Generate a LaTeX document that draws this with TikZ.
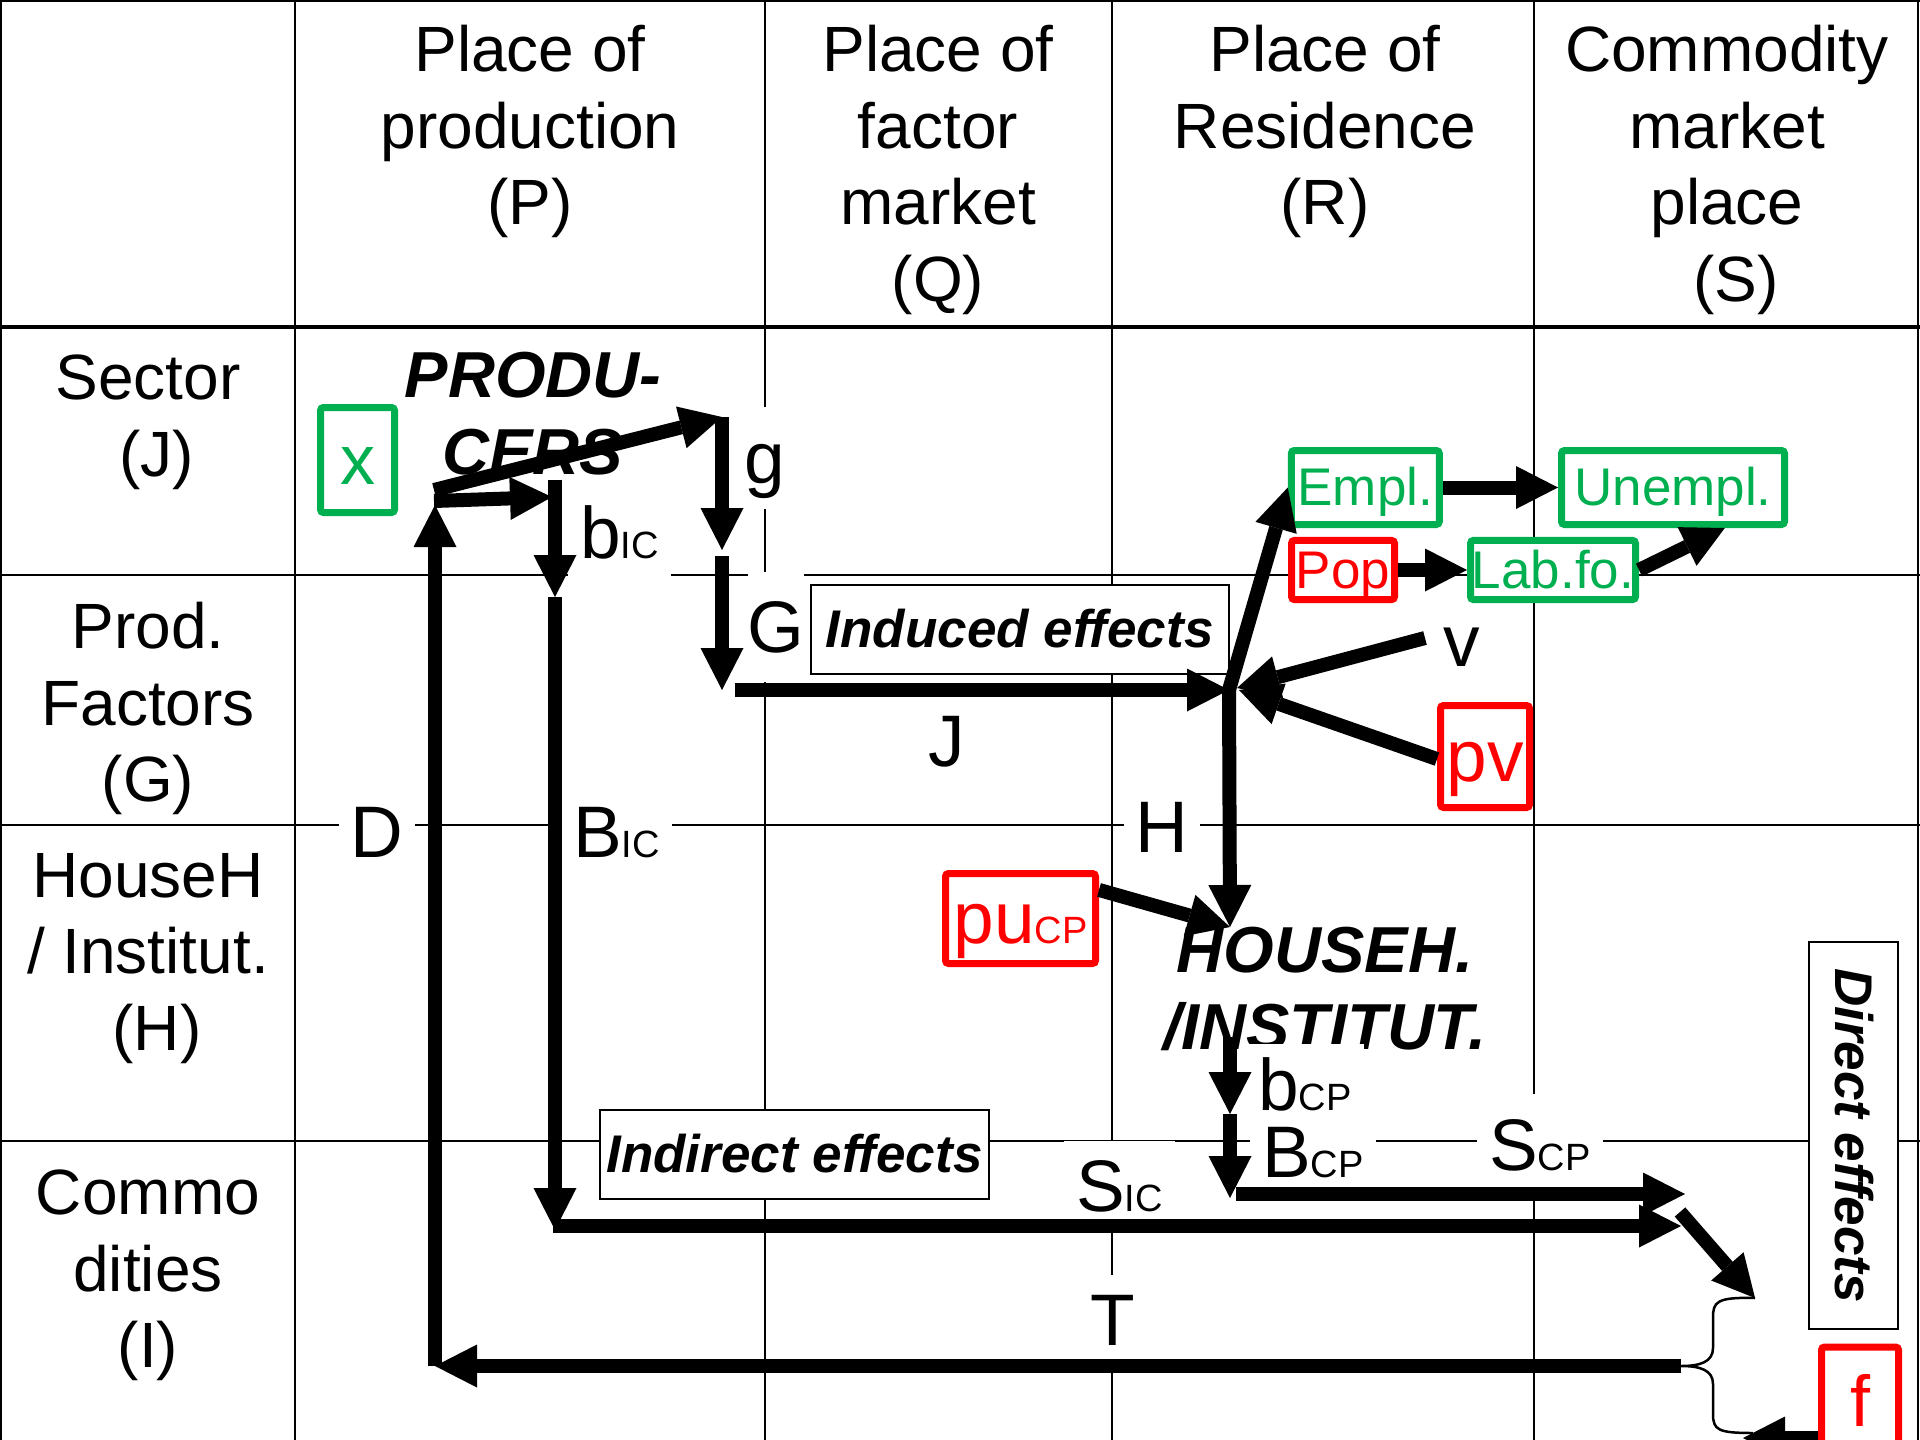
\documentclass[tikz,border=0pt]{standalone}
\usepackage{fontspec}
\setmainfont{Liberation Sans}
\usetikzlibrary{arrows.meta,calc}
\newcommand\setfs[2]{\fontsize{#1}{#2}\selectfont}
\newcommand\subtxt[1]{{\setfs{38}{38}#1}}
\definecolor{boxgreen}{RGB}{0,176,80}
\definecolor{boxred}{RGB}{255,0,0}

\begin{document}
\begin{tikzpicture}[x=1pt,y=-1pt,
  rule/.style={line width=2pt, black},
  hdr/.style={anchor=north, align=center, inner sep=0pt, font=\setfs{64}{76.5}},
  bigtxt/.style={anchor=north, align=center, inner sep=0pt, font=\setfs{65}{77}\bfseries\itshape},
  lbl/.style={anchor=base, fill=white, inner xsep=12pt, inner ysep=10pt,
              text height=66pt, text depth=15.5pt, font=\setfs{73}{80}},
  effbox/.style={draw, line width=2pt, fill=white, inner sep=0pt,
                 font=\setfs{53}{60}\bfseries\itshape, text height=48pt, text depth=11.2pt},
  cbox/.style={draw, line width=7pt, rounded corners=3pt, fill=white, inner sep=0pt},
  greenbox/.style={cbox, draw=boxgreen, text=boxgreen},
  redbox/.style={cbox, draw=boxred, text=boxred},
  smalltxt/.style={font=\setfs{53}{60}, text height=48pt, text depth=11.2pt},
  largetxt/.style={font=\setfs{73}{80}, text height=66pt, text depth=15.5pt},
  flow/.style={line width=14pt, -{Triangle[length=42pt, width=43pt, line width=0pt]}},
  bracepath/.style={line width=2.5pt}
]
\useasboundingbox (0,0) rectangle (1920,1440);

% table rules
\foreach \gx in {1,295,765,1112,1534,1918} \draw[rule] (\gx,0) -- (\gx,1440);
\draw[rule] (0,1) -- (1920,1);
\draw[rule, line width=4pt] (0,327) -- (1920,327);
\foreach \gy in {575,825,1141} \draw[rule] (0,\gy) -- (1920,\gy);

% column headers
\node[hdr] (colP) at (530,25) {Place of\\production\\(P)};
\node[hdr] (colQ) at (938,25) {Place of\\factor\\market\\(Q)};
\node[hdr] (colR) at (1325,25) {Place of\\Residence\\(R)};
\node[hdr] (colS) at (1727,25) {Commodity\\market\\place\\\hspace*{18pt}(S)};

% row headers
\node[hdr] (rowJ) at (148,355) {Sector\\\hspace*{18pt}(J)};
\node[hdr] (rowG) at (148,602) {Prod.\\Factors\\(G)};
\node[hdr] (rowH) at (148,853) {HouseH\\/ Institut.\\\hspace*{18pt}(H)};
\node[hdr] (rowI) at (148,1170) {Commo\\dities\\(I)};

% agents
\node[bigtxt] (producers) at (533,352) {PRODU-\\CERS};
\node[bigtxt] (households) at (1325,927) {HOUSEH.\\/INSTITUT.};

% flow labels
\node[lbl] (lg) at (765,483) {g};
\node[lbl, anchor=base west] (lbic) at (568,558) {b\subtxt{IC}};
\node[lbl, inner xsep=0pt, inner ysep=14pt] (lG) at (776,652) {G};
\node[lbl] (lJ) at (947,766) {J};
\node[lbl] (lv) at (1462,666) {v};
\node[lbl] (lD) at (377,857) {D};
\node[lbl, anchor=base west] (lBIC) at (561,857) {B\subtxt{IC}};
\node[lbl] (lH) at (1162,852) {H};
\node[lbl, anchor=base west, text depth=0pt, inner ysep=0pt] (lbcp) at (1246,1110) {b\subtxt{CP}};
\node[lbl, anchor=base west, text height=60pt, inner ysep=2pt] (lBCP) at (1250,1177) {B\subtxt{CP}};
\node[lbl, anchor=base west] (lSCP) at (1477,1170) {S\subtxt{CP}};
\node[lbl, anchor=base west, inner ysep=4pt] (lSIC) at (1064,1211) {S\subtxt{IC}};
\node[lbl, inner ysep=4pt] (lT) at (1113,1345) {T};

% effect boxes
\node[effbox, minimum width=418pt, minimum height=89pt] (induced) at (1019.6,629.5) {Induced effects};
\node[effbox, minimum width=389pt, minimum height=89pt] (indirect) at (794.5,1154.5) {Indirect effects};
\node[effbox, minimum width=387pt, minimum height=89pt, rotate=-90] (direct) at (1853.5,1135.5) {Direct effects};

% variable boxes
\node[greenbox, font=\setfs{70}{80}, text height=63.4pt, text depth=14.8pt,
      minimum width=74pt, minimum height=105pt] (xb) at (357.5,460) {x};
\node[greenbox, smalltxt, minimum width=148pt, minimum height=74pt] (empl) at (1365.3,487.5) {Empl.};
\node[greenbox, smalltxt, minimum width=223pt, minimum height=74pt] (unempl) at (1673,487.5) {Unempl.};
\node[redbox, smalltxt, minimum width=103pt, minimum height=59pt] (pop) at (1343,570) {Pop};
\node[greenbox, smalltxt, minimum width=165pt, minimum height=59pt] (labfo) at (1553,570) {Lab.fo.};
\node[redbox, largetxt, minimum width=89pt, minimum height=102pt] (pv) at (1485,756.5) {pv};
\node[redbox, largetxt, minimum width=150pt, minimum height=90pt] (pu) at (1020.5,918.5) {pu\subtxt{CP}};
\node[redbox, font=\setfs{72}{80}, text height=65pt, text depth=15.3pt,
      minimum width=77pt, minimum height=110pt] (fb) at (1860,1402) {f};

% junction points of the flows
\coordinate (dtip) at (435,505);
\coordinate (tcorner) at (435,1366);
\coordinate (prodA) at (434,490);
\coordinate (prodB) at (434,501);
\coordinate (gtop) at (722,417);
\coordinate (gend) at (722,550);
\coordinate (Gstart) at (722,556);
\coordinate (Gend) at (722,690);
\coordinate (Jstart) at (735,690);
\coordinate (hub) at (1229,690);
\coordinate (Htip) at (1230,927);
\coordinate (vstart) at (1425,638);
\coordinate (bictop) at (555,480);
\coordinate (bicjoin) at (552,497);
\coordinate (bicend) at (555,597);
\coordinate (Bicend) at (555,1230);
\coordinate (sicstart) at (553,1226);
\coordinate (sicend) at (1681,1226);
\coordinate (bcptop) at (1230,1037);
\coordinate (bcpend) at (1230,1114);
\coordinate (Bcpend) at (1230,1198);
\coordinate (scpstart) at (1236,1194);
\coordinate (scpend) at (1685,1194);
\coordinate (diagstart) at (1680,1212);
\coordinate (bracetop) at (1755,1298);
\coordinate (bracetip) at (1681,1366);
\coordinate (bracebot) at (1753,1433);
\coordinate (ftip) at (1743,1438);

% brace collecting final demand
\draw[bracepath] (bracetop) .. controls (1716,1297) and (1713,1302) .. (1713,1318)
  -- (1713,1348) .. controls (1713,1362) and (1700,1366) .. (bracetip)
  .. controls (1700,1366) and (1713,1370) .. (1713,1384)
  -- (1713,1414) .. controls (1713,1430) and (1718,1433) .. (bracebot);

% flows
\draw[flow] (tcorner) -- (dtip);
\draw[flow] (bracetip) -- (tcorner);
\draw[flow] (prodA) -- (gtop);
\draw[flow] (prodB) -- (bicjoin);
\draw[flow] (gtop) -- (gend);
\draw[flow] (Gstart) -- (Gend);
\draw[flow] (Jstart) -- (hub);
\draw[flow] (hub) -- (empl.west);
\draw[flow] (hub) -- (Htip);
\draw[flow] (vstart) -- ($(hub)+(8,-2)$);
\draw[flow] (pv.183) -- ($(hub)+(10,0)$);
\draw[flow] (pu.20) -- (Htip);
\draw[flow] (empl.east) -- (unempl.west);
\draw[flow] (pop.east) -- (labfo.west);
\draw[flow] (labfo.east) -- (unempl.-38);
\draw[flow] (bictop) -- (bicend);
\draw[flow] (bicend) -- (Bicend);
\draw[flow] (sicstart) -- (sicend);
\draw[flow] (bcptop) -- (bcpend);
\draw[flow] (bcpend) -- (Bcpend);
\draw[flow] (scpstart) -- (scpend);
\draw[flow] (diagstart) -- (bracetop);
\draw[flow] (fb.west |- ftip) -- (ftip);
\end{tikzpicture}
\end{document}
